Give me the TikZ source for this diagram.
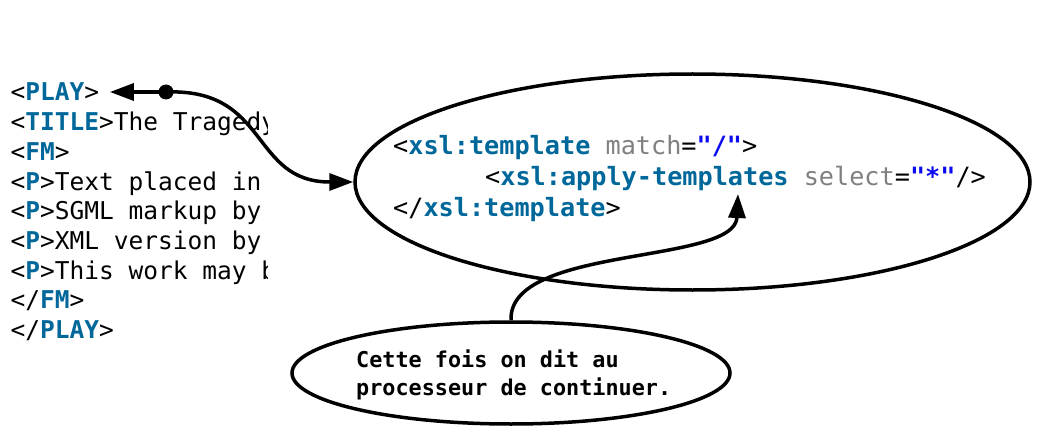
\documentclass[tikz,border=0pt]{standalone}
\usepackage{fontspec}
\usetikzlibrary{shapes.geometric,arrows.meta,positioning}
\usepackage{xcolor}
\newfontfamily\codefont{DejaVu Sans Mono}
\definecolor{tagblue}{HTML}{00679A}
\definecolor{attrgray}{HTML}{808080}
\definecolor{valblue}{HTML}{0A0AF0}
\newcommand{\tagnm}[1]{\textcolor{tagblue}{\bfseries #1}}
\newcommand{\attrnm}[1]{\textcolor{attrgray}{#1}}
\newcommand{\attrval}[1]{\textcolor{valblue}{\bfseries #1}}

\tikzset{
  xmlline/.style={anchor=base west, inner sep=0pt, font=\codefont\fontsize{24.5}{29.7}\selectfont},
  xslline/.style={anchor=base west, inner sep=0pt, font=\codefont\fontsize{25.2}{30.5}\selectfont},
  noteline/.style={anchor=base west, inner sep=0pt, font=\codefont\bfseries\fontsize{21.8}{28.5}\selectfont},
  bubble/.style={ellipse, draw, line width=3.5pt, inner sep=0pt},
  conn/.style={line width=3.5pt, -{Triangle[length=24pt,width=17pt]}}
}

\begin{document}
\begin{tikzpicture}[x=1pt,y=-1pt]
  \useasboundingbox (0,0) rectangle (1047,433);

  % XML source, cut off on the right
  \begin{scope}
    \clip (0,0) rectangle (267.5,433);
    \foreach \i/\txt in {1/{<\tagnm{PLAY}>},
                         2/{<\tagnm{TITLE}>The Tragedy},
                         3/{<\tagnm{FM}>},
                         4/{<\tagnm{P}>Text placed in},
                         5/{<\tagnm{P}>SGML markup by},
                         6/{<\tagnm{P}>XML version by},
                         7/{<\tagnm{P}>This work may be},
                         8/{</\tagnm{FM}>},
                         9/{</\tagnm{PLAY}>}} {
      \node[xmlline] (code\i) at (10.5, 101+29.7*\i-29.7) {\txt};
    }
  \end{scope}

  % template rule
  \node[bubble, minimum width=675pt, minimum height=216pt] (tplbox) at (692.5,182) {};
  \node[xslline] (tpl1) at (393,155) {<\tagnm{xsl:template} \attrnm{match}=\attrval{"/"}>};
  \node[xslline] (tpl2) at (485,185.5) {<\tagnm{xsl:apply-templates} \attrnm{select}=\attrval{"*"}/>};
  \node[xslline] (tpl3) at (393,216) {</\tagnm{xsl:template}>};

  % comment bubble
  \node[bubble, minimum width=438pt, minimum height=102pt] (notebox) at (511,373) {};
  \node[noteline] (note1) at (356,367) {Cette fois on dit au};
  \node[noteline] (note2) at (356,395) {processeur de continuer.};

  % connectors
  \coordinate (joint) at (166,92);
  \coordinate (applytip) at (738,194);
  \fill (joint) circle (7.5);
  \draw[conn] (joint) -- ([xshift=10.5pt]code1.east |- joint);
  \draw[conn] (joint) .. controls (270,88) and (250,182) .. (tplbox.west);
  \draw[conn] (notebox.north) .. controls (508,245) and (735,265) .. (applytip);
\end{tikzpicture}
\end{document}
